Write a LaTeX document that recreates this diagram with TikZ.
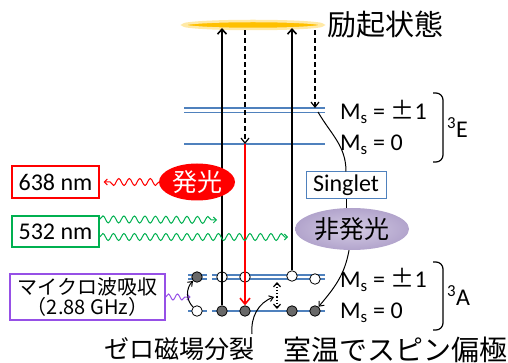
\documentclass[tikz,border=0pt]{standalone}
\usepackage{fontspec}
\setmainfont{Carlito}
\newfontfamily\jp{Noto Sans CJK JP}
\usetikzlibrary{arrows.meta,decorations.pathmorphing,shapes.geometric}
\definecolor{lvblue}{RGB}{79,129,189}
\definecolor{excorange}{RGB}{255,192,0}
\definecolor{emred}{RGB}{255,0,0}
\definecolor{lasgreen}{RGB}{0,176,80}
\definecolor{mwpurple}{RGB}{150,80,230}
\definecolor{nrlight}{RGB}{212,204,228}
\definecolor{nrdark}{RGB}{178,164,204}
\definecolor{dotgray}{RGB}{105,105,105}

\tikzset{
  level/.style={lvblue,line width=1.2pt},
  occ/.style={circle,draw,fill=dotgray,inner sep=0pt,minimum size=10.5pt,line width=0.8pt},
  vac/.style={circle,draw,fill=white,inner sep=0pt,minimum size=10.5pt,line width=0.8pt},
  pump/.style={line width=1.6pt,-{Straight Barb[length=5pt,width=9pt]}},
  relax/.style={dash pattern=on 5pt off 3pt,line width=1.2pt,-{Straight Barb[length=5pt,width=8pt]}},
  wave/.style={decorate,decoration={snake,amplitude=3.5pt,segment length=10.5pt,post length=3pt}},
  brace/.style={line width=1.2pt,rounded corners=7pt},
  msl/.style={anchor=west,inner sep=0pt,font=\fontsize{24}{26}\selectfont},
  jptext/.style={inner sep=0pt,font=\jp\fontsize{28}{30}\selectfont},
}
\newcommand{\pmsign}{{\jp ±}}

\begin{document}
\begin{tikzpicture}[x=1pt,y=-1pt]
  \useasboundingbox (0,0) rectangle (508,363);

  %excited state
  \node[ellipse,fill=excorange,draw=excorange!35,line width=2.5pt,minimum width=140pt,minimum height=8pt,inner sep=0pt] (exc) at (253,25) {};
  \node[jptext,anchor=west,font=\jp\fontsize{29}{30}\selectfont] (exclab) at (327,25) {励起状態};

  %3E levels
  \draw[level] (184,108) -- (325,108);
  \draw[level] (184,112.5) -- (325,112.5);
  \draw[level] (184,144) -- (325,144);

  %3A levels, split at the left
  \foreach \y in {275,279,311}{
    \draw[level] (188,\y) -- (207,\y);
    \draw[level] (212,\y) -- (325,\y);
  }

  %spin populations
  \node[occ] (a1) at (197,277) {};
  \node[vac] (b1) at (197,311) {};
  \node[vac] (a2) at (222,277) {};
  \node[occ] (b2) at (222,311) {};
  \node[vac] (a3) at (245,277) {};
  \node[occ] (b3) at (245,311) {};
  \node[vac] (a4) at (292,276) {};
  \node[occ] (b4) at (292,311) {};
  \node[vac] (a5) at (315,279) {};
  \node[occ] (b5) at (315,311) {};

  \coordinate (e0) at (245,144);
  \coordinate (e1) at (315,108);

  %optical pumping and decay
  \draw[pump,shorten >=3pt] (b2.north) -- (b2 |- exc.center);
  \draw[pump,shorten >=3pt] (a4.north) -- (a4 |- exc.center);
  \draw[relax] (e0 |- exc.south) -- (e0);
  \draw[relax] (e1 |- exc.south) -- (e1);
  \draw[emred,line width=1.6pt,-{Straight Barb[length=6pt,width=10pt]}] (e0) -- (b3.north);

  %labels of the levels
  \node[msl] (e1lab) at (340,112) {M\textsubscript{s} = \pmsign1};
  \node[msl] (e0lab) at (340,145) {M\textsubscript{s} = 0};
  \node[msl] (a1lab) at (340,280) {M\textsubscript{s} = \pmsign1};
  \node[msl] (a0lab) at (340,313) {M\textsubscript{s} = 0};
  \draw[brace] (433,93) -- (443,93) -- (443,162) -- (433,162);
  \draw[brace] (433,262) -- (443,262) -- (443,330) -- (433,330);
  \node[msl] (elab) at (447,128) {\textsuperscript{3}E};
  \node[msl] (alab) at (447,296) {\textsuperscript{3}A};

  %intersystem crossing
  \node[draw=lvblue,line width=1pt,minimum width=80pt,minimum height=27pt,inner sep=0pt,font=\fontsize{24}{26}\selectfont] (singlet) at (346,185.5) {Singlet};
  \node[ellipse,inner color=nrlight,outer color=nrdark,minimum width=114pt,minimum height=42pt,inner sep=0pt,font=\jp\fontsize{25}{28}\selectfont] (nonrad) at (352,229) {非発光};
  \draw[line width=1pt] (318,112) to[out=-60,in=90] (singlet.north);
  \draw[line width=1pt] (singlet.south) -- (singlet.south |- nonrad.north);
  \draw[line width=1pt,-{Straight Barb[length=4pt,width=7pt]}] (nonrad.-98) to[out=-100,in=50] (b5);

  %emission
  \node[ellipse,fill=emred,minimum width=76pt,minimum height=37pt,inner sep=0pt,text=white,font=\jp\fontsize{25}{28}\selectfont] (emit) at (197,182) {発光};
  \node[draw=emred,line width=1.3pt,minimum width=87pt,minimum height=32pt,inner sep=0pt,font=\fontsize{24}{26}\selectfont] (b638) at (55.5,182) {638 nm};
  \draw[wave,emred,line width=1pt,-{Straight Barb[length=3pt,width=6pt]}] (emit.west) -- ([xshift=4pt]b638.east);

  %green excitation
  \node[draw=lasgreen,line width=1.3pt,minimum width=87pt,minimum height=31pt,inner sep=0pt,font=\fontsize{24}{26}\selectfont] (b532) at (55.5,231.5) {532 nm};
  \draw[wave,lasgreen,line width=1pt,-{Straight Barb[length=3pt,width=6pt]}] ([yshift=-4pt]b532.north east) -- (217,220);
  \draw[wave,lasgreen,line width=1pt,-{Straight Barb[length=3pt,width=6pt]}] ([yshift=-5.5pt]b532.east) -- (288,237);

  %microwave
  \node[draw=mwpurple,line width=1.3pt,minimum width=155pt,minimum height=46pt,inner sep=0pt,align=center,font=\jp\fontsize{20}{20}\selectfont] (mw) at (87.5,297) {マイクロ波吸収\\（2.88 GHz）};
  \draw[wave,mwpurple,line width=1pt,decoration={amplitude=3pt,segment length=9pt},-{Straight Barb[length=3pt,width=6pt]}] (mw.east) -- +(25,0);
  \draw[line width=1pt,-{Straight Barb[length=4pt,width=6pt]}] (b1) to[bend left=45] (a1);

  %zero field splitting
  \coordinate (zt) at (277,282);
  \coordinate (zb) at (277,309);
  \draw[dotted,line width=1.2pt,{Straight Barb[length=4pt,width=7pt]}-{Straight Barb[length=4pt,width=7pt]}] (zt) -- (zb);
  \node[jptext,font=\jp\fontsize{25}{28}\selectfont] (zfs) at (179,349) {ゼロ磁場分裂};
  \draw[line width=1pt,-{Straight Barb[length=4pt,width=6pt]}] (252,334) to[out=95,in=200] (274,297);

  \node[jptext] (pol) at (395,350) {室温でスピン偏極};
\end{tikzpicture}
\end{document}
